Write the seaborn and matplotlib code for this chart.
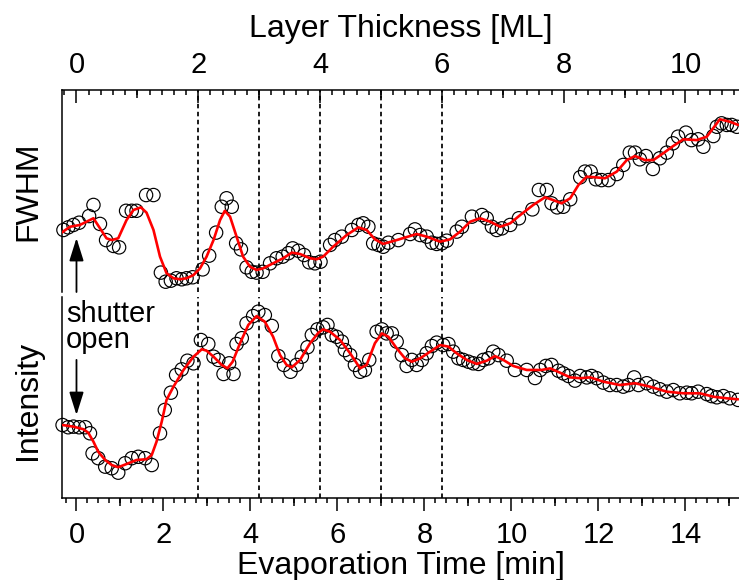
import matplotlib
matplotlib.use("Agg")
import matplotlib.pyplot as plt
from matplotlib.ticker import MultipleLocator, NullFormatter
import seaborn as sns

# ---------------- data -----------------------------------------------------
# FWHM of the diffraction spot (arb. units) vs evaporation time [min]
fwhm_time = [-0.30, -0.19, -0.07, 0.06, 0.29, 0.39, 0.54, 0.68, 0.85, 0.98,
             1.14, 1.27, 1.38, 1.60, 1.77, 1.94, 2.05, 2.17, 2.30, 2.42,
             2.53, 2.67, 2.90, 3.05, 3.21, 3.34, 3.45, 3.57, 3.67, 3.78,
             3.91, 4.03, 4.14, 4.28, 4.45, 4.60, 4.74, 4.87, 4.97, 5.10,
             5.23, 5.35, 5.48, 5.61, 5.83, 5.94, 6.10, 6.33, 6.48, 6.59,
             6.71, 6.82, 6.94, 7.05, 7.17, 7.40, 7.67, 7.78, 7.90, 8.05,
             8.17, 8.28, 8.40, 8.51, 8.74, 8.86, 9.09, 9.32, 9.43, 9.55,
             9.66, 9.78, 9.97, 10.17, 10.48, 10.63, 10.81, 10.92, 11.05, 11.19,
             11.35, 11.58, 11.69, 11.82, 11.94, 12.07, 12.23, 12.42, 12.57, 12.72,
             12.84, 12.95, 13.09, 13.25, 13.41, 13.57, 13.71, 13.83, 14.01, 14.14,
             14.29, 14.41, 14.64, 14.72, 14.83, 14.95, 15.06, 15.18]
fwhm_value = [30.7, 32.0, 33.2, 34.3, 37.6, 43.1, 33.7, 25.7, 22.8, 22.1,
              40.2, 40.2, 40.2, 48.0, 48.0, 9.6, 5.1, 5.6, 6.8, 6.3,
              6.8, 7.3, 11.2, 18.0, 29.4, 42.2, 46.4, 42.2, 24.1, 21.1,
              12.2, 10.0, 9.6, 10.0, 14.2, 16.7, 17.5, 19.2, 21.6, 20.4,
              18.3, 14.7, 14.2, 15.0, 23.3, 25.7, 27.4, 30.7, 33.2, 34.0,
              32.3, 24.1, 23.3, 22.4, 24.4, 25.7, 28.7, 31.0, 28.2, 27.4,
              24.4, 23.8, 24.1, 25.4, 29.9, 32.3, 37.3, 38.1, 36.5, 32.3,
              30.7, 31.5, 33.2, 36.5, 40.9, 50.5, 50.5, 43.9, 41.9, 42.2,
              45.9, 56.8, 59.6, 59.6, 55.8, 55.4, 55.4, 58.4, 62.9, 69.0,
              69.0, 65.7, 67.3, 60.9, 66.2, 69.0, 73.6, 76.9, 78.9, 75.2,
              75.6, 71.9, 77.2, 81.8, 83.5, 82.7, 82.7, 81.8]

# smoothed fit through the FWHM data
fwhm_fit_time = [-0.34, -0.15, 0.08, 0.39, 0.69, 0.81, 0.96, 1.15, 1.31, 1.48,
                 1.61, 1.77, 1.92, 2.07, 2.23, 2.38, 2.53, 2.69, 2.84, 2.99,
                 3.15, 3.30, 3.41, 3.53, 3.68, 3.83, 3.99, 4.14, 4.29, 4.52,
                 4.75, 4.95, 5.14, 5.37, 5.52, 5.67, 5.90, 6.21, 6.48, 6.67,
                 6.86, 7.05, 7.36, 7.82, 8.05, 8.36, 8.59, 8.82, 9.05, 9.28,
                 9.51, 9.74, 9.97, 10.20, 10.50, 10.77, 10.96, 11.15, 11.35, 11.54,
                 11.73, 11.92, 12.15, 12.42, 12.65, 12.84, 13.07, 13.26, 13.49, 13.72,
                 13.95, 14.26, 14.49, 14.79, 15.02, 15.21]
fwhm_fit_value = [29.4, 32.3, 33.2, 36.5, 26.6, 25.7, 26.6, 35.6, 40.6, 41.9,
                  39.3, 30.7, 17.5, 9.3, 6.8, 6.3, 6.8, 8.4, 11.7, 17.5,
                  25.7, 35.6, 40.2, 37.3, 27.4, 17.5, 12.5, 10.9, 11.7, 14.2,
                  16.7, 19.5, 18.8, 16.7, 16.2, 17.5, 22.4, 28.2, 32.0, 30.7,
                  26.1, 23.8, 25.7, 28.7, 27.4, 24.9, 26.1, 29.9, 34.8, 36.5,
                  34.8, 32.3, 34.0, 38.1, 43.1, 46.9, 45.5, 43.9, 46.4, 53.0,
                  57.1, 56.8, 56.3, 59.6, 65.3, 67.3, 65.3, 65.3, 68.7, 72.3,
                  75.6, 75.2, 76.9, 85.5, 84.3, 82.7]

# specular spot intensity (arb. units) vs evaporation time [min]
intensity_time = [-0.32, -0.19, -0.07, 0.06, 0.20, 0.31, 0.37, 0.50, 0.66, 0.81,
                  0.96, 1.12, 1.27, 1.42, 1.58, 1.73, 1.92, 2.03, 2.17, 2.29,
                  2.42, 2.55, 2.69, 2.86, 3.03, 3.15, 3.26, 3.38, 3.51, 3.61,
                  3.68, 3.80, 3.91, 4.06, 4.18, 4.33, 4.49, 4.64, 4.77, 4.92,
                  5.06, 5.18, 5.31, 5.41, 5.54, 5.67, 5.77, 5.87, 5.98, 6.10,
                  6.17, 6.29, 6.40, 6.52, 6.63, 6.73, 6.90, 7.02, 7.13, 7.25,
                  7.36, 7.48, 7.59, 7.71, 7.82, 7.94, 8.05, 8.17, 8.28, 8.43,
                  8.55, 8.66, 8.78, 8.89, 9.01, 9.12, 9.24, 9.35, 9.47, 9.58,
                  9.70, 9.89, 10.08, 10.35, 10.54, 10.66, 10.79, 10.92, 11.08, 11.19,
                  11.31, 11.46, 11.58, 11.73, 11.84, 11.96, 12.11, 12.26, 12.42, 12.57,
                  12.69, 12.82, 12.92, 13.11, 13.26, 13.41, 13.57, 13.72, 13.87, 14.03,
                  14.14, 14.29, 14.49, 14.60, 14.72, 14.87, 15.02, 15.21]
intensity_value = [36.3, 35.2, 35.5, 35.2, 35.2, 32.2, 22.2, 19.8, 15.6, 14.8,
                   12.6, 17.3, 19.8, 20.5, 19.8, 16.4, 32.2, 43.8, 52.4, 61.2,
                   64.0, 68.3, 67.0, 78.6, 76.6, 70.3, 68.7, 61.7, 67.0, 61.7,
                   76.6, 79.5, 86.9, 90.5, 92.7, 91.0, 85.6, 70.6, 66.2, 62.8,
                   66.2, 70.3, 75.0, 81.1, 83.9, 84.9, 86.1, 81.1, 80.2, 77.8,
                   73.6, 71.1, 66.2, 62.8, 63.7, 68.7, 82.7, 83.9, 81.9, 81.9,
                   77.8, 71.1, 65.7, 68.7, 66.2, 68.7, 72.0, 75.6, 77.3, 76.1,
                   76.6, 72.8, 69.5, 68.7, 67.8, 67.0, 66.7, 68.7, 69.5, 72.8,
                   71.1, 68.3, 63.7, 63.7, 59.7, 63.7, 65.7, 66.2, 63.3, 62.0,
                   60.7, 58.4, 60.7, 60.0, 60.7, 59.6, 57.4, 56.2, 56.2, 55.4,
                   56.2, 60.0, 56.2, 57.1, 55.4, 54.1, 52.9, 53.7, 52.1, 52.4,
                   52.1, 52.9, 51.7, 50.7, 50.1, 50.7, 49.6, 48.8]

# smoothed fit through the intensity data
intensity_fit_time = [-0.32, -0.07, 0.16, 0.27, 0.39, 0.50, 0.66, 0.81, 0.96, 1.15,
                      1.38, 1.61, 1.73, 1.84, 1.96, 2.07, 2.23, 2.46, 2.69, 2.88,
                      2.99, 3.15, 3.34, 3.47, 3.59, 3.76, 3.95, 4.14, 4.33, 4.52,
                      4.68, 4.83, 4.95, 5.14, 5.37, 5.56, 5.67, 5.83, 6.06, 6.29,
                      6.52, 6.67, 6.86, 7.02, 7.17, 7.36, 7.55, 7.71, 7.90, 8.13,
                      8.36, 8.55, 8.74, 8.97, 9.20, 9.43, 9.62, 9.81, 10.04, 10.35,
                      10.69, 10.89, 11.12, 11.35, 11.58, 11.81, 12.11, 12.49, 12.84, 13.18,
                      13.57, 13.95, 14.33, 14.64, 14.95, 15.21]
intensity_fit_value = [36.3, 35.5, 34.2, 32.5, 28.0, 23.0, 18.9, 16.4, 15.3, 16.9,
                       18.9, 19.3, 21.4, 28.0, 38.0, 48.8, 55.4, 63.7, 70.3, 74.0,
                       73.3, 70.3, 66.2, 64.5, 67.8, 77.0, 86.1, 90.5, 87.7, 80.2,
                       71.1, 66.2, 65.0, 68.7, 77.0, 82.2, 83.9, 82.7, 78.6, 72.0,
                       64.5, 66.2, 77.0, 81.9, 80.2, 74.5, 69.5, 67.8, 69.5, 72.8,
                       76.1, 75.3, 72.0, 68.7, 66.7, 68.3, 70.6, 68.7, 65.7, 63.7,
                       63.7, 64.5, 62.3, 60.0, 59.6, 60.0, 57.9, 56.2, 57.1, 55.4,
                       52.9, 52.1, 52.1, 50.4, 49.6, 49.1]

MIN_PER_ML = 1.4                      # deposition rate: minutes per monolayer
layer_marks_ml = [2, 3, 4, 5, 6]      # completed layers marked by dashed lines
time_ticks = [0, 2, 4, 6, 8, 10, 12, 14]
time_mid_ticks = [1, 3, 5, 7, 9, 11, 13, 15]
ml_ticks = [0, 2, 4, 6, 8, 10]
ml_mid_ticks = [1, 3, 5, 7, 9]
shutter_time = 0.0

# ---------------- style ----------------------------------------------------
sns.set_style("white")
plt.rcParams["font.family"] = ["Liberation Sans", "DejaVu Sans"]
plt.rcParams.update({
    "axes.linewidth": 1.1,
    "text.color": "black",
    "axes.labelcolor": "black",
    "axes.edgecolor": "black",
    "xtick.color": "black",
    "ytick.color": "black",
})

W, H = 739, 580
fig = plt.figure(figsize=(W / 100, H / 100), dpi=100)


def box(x0, y0, x1, y1):
    return [x0 / W, 1 - y1 / H, (x1 - x0) / W, (y1 - y0) / H]


ax1 = fig.add_axes(box(62, 90, W, 292))
ax2 = fig.add_axes(box(62, 297, W, 498))

XLIM = (-0.333, 15.23)
for ax in (ax1, ax2):
    ax.set_xlim(*XLIM)
    ax.set_ylim(0, 100)
    ax.set_yticks([])
    ax.set_facecolor("white")
    ax.spines["right"].set_visible(False)
    for ml in layer_marks_ml:
        ax.axvline(ml * MIN_PER_ML, color="black", lw=1.25,
                   linestyle=(0, (2.6, 2.0)), zorder=1)

ax1.spines["bottom"].set_visible(False)
ax1.tick_params(axis="x", which="both", bottom=False, top=False,
                labelbottom=False, labeltop=False)
ax2.spines["top"].set_visible(False)

scatter_kw = dict(marker="o", s=92, facecolors="none", edgecolor="black",
                  linewidth=0.85, legend=False, zorder=2, clip_on=False)
line_kw = dict(color="#ff0000", linewidth=1.9, estimator=None, sort=False,
               legend=False, zorder=3)

sns.scatterplot(x=fwhm_time, y=fwhm_value, ax=ax1, **scatter_kw)
sns.lineplot(x=fwhm_fit_time, y=fwhm_fit_value, ax=ax1, **line_kw)
sns.scatterplot(x=intensity_time, y=intensity_value, ax=ax2, **scatter_kw)
sns.lineplot(x=intensity_fit_time, y=intensity_fit_value, ax=ax2, **line_kw)
for ax in (ax1, ax2):
    ax.set_xlim(*XLIM)
    ax.set_ylim(0, 100)
    ax.set_xlabel("")
    ax.set_ylabel("")

# ---------------- bottom time axis ----------------------------------------
ax2.set_xticks(time_ticks)
ax2.xaxis.set_minor_locator(MultipleLocator(0.25))
ax2.tick_params(axis="x", which="major", direction="out", length=9.4,
                width=1.1, labelsize=21, pad=7, bottom=True)
ax2.tick_params(axis="x", which="minor", direction="out", length=3.8,
                width=1.1, bottom=True)
ident = (lambda v: v, lambda v: v)
mid_bottom = ax2.secondary_xaxis("bottom", functions=ident)
mid_bottom.set_xticks(time_mid_ticks)
mid_bottom.xaxis.set_major_formatter(NullFormatter())
mid_bottom.tick_params(axis="x", direction="out", length=6, width=1.1)
mid_bottom.spines["bottom"].set_visible(False)

# ---------------- top layer-thickness axis --------------------------------
to_ml = (lambda t: t / MIN_PER_ML, lambda m: m * MIN_PER_ML)
top = ax1.secondary_xaxis("top", functions=to_ml)
top.set_xticks(ml_ticks)
top.xaxis.set_minor_locator(MultipleLocator(0.2))
top.tick_params(axis="x", which="major", direction="in", length=9,
                width=1.1, labelsize=21, pad=8)
top.tick_params(axis="x", which="minor", direction="in", length=3.6,
                width=1.1)
top.spines["top"].set_visible(False)
mid_top = ax1.secondary_xaxis("top", functions=to_ml)
mid_top.set_xticks(ml_mid_ticks)
mid_top.xaxis.set_major_formatter(NullFormatter())
mid_top.tick_params(axis="x", direction="in", length=5.4, width=1.1)
mid_top.spines["top"].set_visible(False)

# ---------------- labels ----------------------------------------------------
fig.text(400.5 / W, 1 - 37 / H, "Layer Thickness [ML]", fontsize=23,
         ha="center", va="baseline")
fig.text(400.5 / W, 1 - 574 / H, "Evaporation Time [min]", fontsize=23,
         ha="center", va="baseline")
fig.text(28 / W, 1 - 191 / H, "FWHM", fontsize=23, rotation=90,
         ha="center", va="center")
fig.text(28 / W, 1 - 400 / H, "Intensity", fontsize=23, rotation=90,
         ha="center", va="center")

# shutter-open annotation
fig.text(66 / W, 1 - 322 / H, "shutter", fontsize=21, ha="left", va="baseline")
fig.text(66 / W, 1 - 348 / H, "open", fontsize=21, ha="left", va="baseline")
arrow = dict(arrowstyle="-|>,head_length=0.7,head_width=0.22",
             color="black", lw=1.3, shrinkA=0, shrinkB=0, mutation_scale=20)
ax1.annotate("", xy=(shutter_time, 26.7), xytext=(shutter_time, 0.0),
             arrowprops=arrow, annotation_clip=False)
ax2.annotate("", xy=(shutter_time, 41.3), xytext=(shutter_time, 68.7),
             arrowprops=arrow, annotation_clip=False)

fig.savefig("out.png", dpi=100)
